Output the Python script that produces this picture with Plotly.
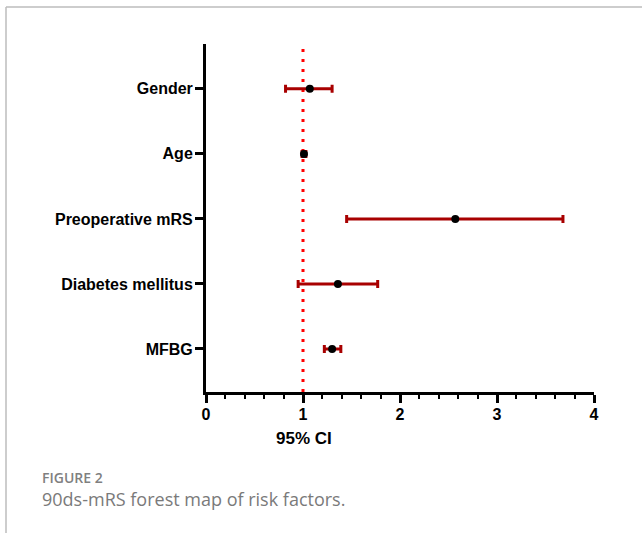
import plotly.graph_objects as go

categories = ["Gender", "Age", "Preoperative mRS", "Diabetes mellitus", "MFBG"]
estimate = [1.07, 1.01, 2.57, 1.36, 1.30]
ci_low = [0.82, 0.99, 1.45, 0.95, 1.22]
ci_high = [1.30, 1.03, 3.68, 1.77, 1.39]
x_ticks = [0, 1, 2, 3, 4]
ref_value = 1

W, H = 642, 533
L, R, T, B = 206, 594, 44, 392

ypos = list(range(len(categories), 0, -1))

def px_x(p):
    return (p - L) / (R - L)

def px_y(p):
    return (B - p) / (B - T)

fig = go.Figure()

# reference line
fig.add_trace(go.Scatter(
    x=[ref_value, ref_value], y=[0.338, 5.69], mode="lines",
    line=dict(color="#ff0000", width=3, dash="3px,7px"),
    hoverinfo="skip", showlegend=False))

fig.add_trace(go.Scatter(
    x=estimate, y=ypos, mode="markers",
    marker=dict(color="black", size=8),
    error_x=dict(type="data", symmetric=False,
                 array=[h - e for h, e in zip(ci_high, estimate)],
                 arrayminus=[e - l for e, l in zip(estimate, ci_low)],
                 color="#a80000", thickness=3, width=4),
    showlegend=False))

fig.update_layout(
    width=W, height=H,
    margin=dict(l=L, r=W - R, t=T, b=H - B),
    paper_bgcolor="white", plot_bgcolor="white",
    font=dict(family="Liberation Sans, Arial, sans-serif", color="black"),
    showlegend=False,
    xaxis=dict(range=[0, 4], tickvals=x_ticks, ticktext=[str(v) for v in x_ticks],
               showgrid=False, zeroline=False, showline=True, linecolor="black", linewidth=3,
               ticks="outside", ticklen=8, tickwidth=3, tickcolor="black", ticklabelstandoff=-2,
               tickfont=dict(size=16, family="Liberation Sans, Arial", weight="bold"),
               minor=dict(dtick=0.2, ticks="outside", ticklen=4, tickwidth=2, tickcolor="black", showgrid=False)),
    yaxis=dict(range=[0.338, 5.69], tickvals=ypos, ticktext=categories,
               showgrid=False, zeroline=False, showline=True, linecolor="black", linewidth=3,
               ticks="outside", ticklen=8, tickwidth=3, tickcolor="black", ticklabelstandoff=-1,
               tickfont=dict(size=16, family="Liberation Sans, Arial", weight="bold")),
)

# x axis title
fig.add_annotation(text="<b>95% CI</b>", xref="paper", yref="paper",
                   x=px_x(304), y=px_y(438), xanchor="center", yanchor="middle", showarrow=False,
                   font=dict(size=17, family="Liberation Sans, Arial", color="black"))

# captions
fig.add_annotation(text="FIGURE 2", xref="paper", yref="paper",
                   x=px_x(40), y=px_y(477), xanchor="left", yanchor="middle", showarrow=False,
                   font=dict(size=14, family="Open Sans", color="#808080", weight=600))
fig.add_annotation(text="90ds-mRS forest map of risk factors.", xref="paper", yref="paper",
                   x=px_x(40), y=px_y(499), xanchor="left", yanchor="middle", showarrow=False,
                   font=dict(size=18, family="Open Sans", color="#7a7a7a"))

# border frame
fig.add_shape(type="line", xref="paper", yref="paper", x0=px_x(6), x1=px_x(W + 5),
              y0=px_y(7), y1=px_y(7), line=dict(color="#bdbdbd", width=1.5))
fig.add_shape(type="line", xref="paper", yref="paper", x0=px_x(6), x1=px_x(6),
              y0=px_y(7), y1=px_y(H + 5), line=dict(color="#bdbdbd", width=1.5))

fig.write_html("out.html", config={"displayModeBar": False},
               post_script="document.body.style.margin='0px';document.body.style.overflow='hidden';")
